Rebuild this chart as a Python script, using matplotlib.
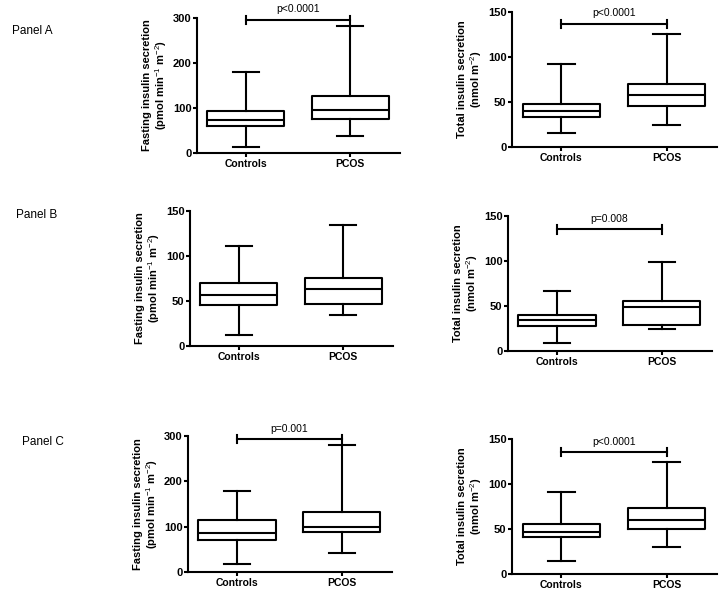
import matplotlib
matplotlib.use('Agg')
import matplotlib.pyplot as plt

plt.rcParams['font.family'] = ['Liberation Sans', 'DejaVu Sans']
plt.rcParams['mathtext.fontset'] = 'custom'
plt.rcParams['mathtext.rm'] = 'Liberation Sans'
plt.rcParams['mathtext.bf'] = 'Liberation Sans:bold'

groups = ['Controls', 'PCOS']

# box stats per panel: (whislo, q1, med, q3, whishi) for Controls and PCOS
a_fast = [(13, 61, 74, 94, 179), (37, 76, 96, 126, 283)]
a_total = [(15, 33.5, 40, 48, 92), (24, 46, 58, 70, 126)]
b_fast = [(12, 46, 57, 69.5, 111), (34.5, 46.5, 63, 76, 134)]
b_total = [(9, 28, 35, 40, 67), (24, 29, 49, 56, 98.5)]
c_fast = [(18, 71, 87, 115, 178), (41, 88, 100, 132, 280)]
c_total = [(14.5, 41, 46.5, 56, 91), (30, 50, 60.5, 73, 125)]

fast_label = 'Fasting insulin secretion\n(pmol min$^{-1}$ m$^{-2}$)'
total_label = 'Total insulin secretion\n(nmol m$^{-2}$)'

# (stats, ymax, ytick step, ylabel, p text, bracket y, axes rect in px: x0, x1, ytop, ybottom)
panels = [
    (a_fast, 300, 100, fast_label, 'p<0.0001', 296, (197, 400, 18, 153)),
    (a_total, 150, 50, total_label, 'p<0.0001', 137, (512, 717, 12, 147)),
    (b_fast, 150, 50, fast_label, None, None, (190, 393, 211, 346)),
    (b_total, 150, 50, total_label, 'p=0.008', 135, (508, 712, 216, 351)),
    (c_fast, 300, 100, fast_label, 'p=0.001', 293, (188, 392, 436, 572)),
    (c_total, 150, 50, total_label, 'p<0.0001', 135.5, (512, 717, 439, 574)),
]

W, H = 720, 592
fig = plt.figure(figsize=(W / 100, H / 100), dpi=100)

for stats, ymax, step, ylab, ptxt, by, (x0, x1, yt, yb) in panels:
    ax = fig.add_axes([x0 / W, 1 - yb / H, (x1 - x0) / W, (yb - yt) / H])
    bstats = []
    for g, (lo, q1, med, q3, hi) in zip(groups, stats):
        bstats.append(dict(label=g, whislo=lo, q1=q1, med=med, q3=q3, whishi=hi, fliers=[]))
    lw = 1.5
    ax.bxp(bstats, positions=[1, 2], widths=0.74, showfliers=False, capwidths=0.25,
           boxprops=dict(color='black', linewidth=lw),
           whiskerprops=dict(color='black', linewidth=lw),
           capprops=dict(color='black', linewidth=lw),
           medianprops=dict(color='black', linewidth=lw))
    ax.set_xlim(0.53, 2.48)
    ax.set_ylim(0, ymax)
    ax.set_yticks(range(0, ymax + 1, step))
    ax.set_xticks([1, 2])
    ax.set_xticklabels(groups, fontweight='bold', fontsize=7.5)
    for t in ax.get_yticklabels():
        t.set_fontweight('bold')
        t.set_fontsize(8)
    ax.spines['top'].set_visible(False)
    ax.spines['right'].set_visible(False)
    ax.spines['left'].set_linewidth(1.5)
    ax.spines['bottom'].set_linewidth(1.5)
    ax.tick_params(width=1.5, length=3, pad=1)
    ax.set_ylabel(ylab, fontweight='bold', fontsize=8, labelpad=3, linespacing=1.1)
    for s in ax.spines.values():
        s.set_clip_on(False)
    if ptxt:
        ax.plot([1, 2], [by, by], color='black', lw=1.5, clip_on=False)
        tick = ymax * 0.03
        for xx in (1, 2):
            ax.plot([xx, xx], [by - tick, by + tick], color='black', lw=1.5, clip_on=False)
        ax.text(1.5, by + ymax * 0.04, ptxt, ha='center', va='bottom', fontsize=7.5)

fig.text(12 / W, 1 - 31 / H, 'Panel A', fontsize=8.5, va='center', ha='left')
fig.text(16 / W, 1 - 215 / H, 'Panel B', fontsize=8.5, va='center', ha='left')
fig.text(22 / W, 1 - 442 / H, 'Panel C', fontsize=8.5, va='center', ha='left')

fig.savefig('out.png', dpi=100)
